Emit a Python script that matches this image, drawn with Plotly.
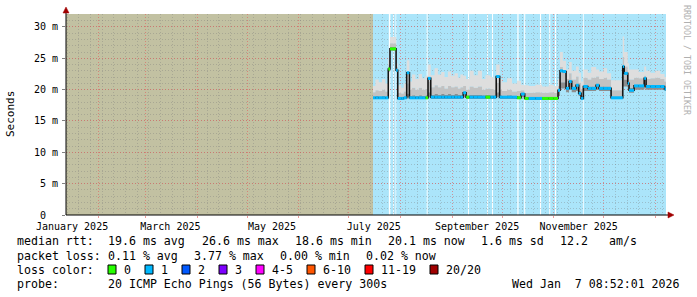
import plotly.graph_objects as go

# ---------------- data ----------------
axis_start = "2025-01-12 08:52:01"
axis_end = "2026-01-07 08:52:01"
data_start = "2025-07-15 14:00"

seg_start = [
    "2025-07-15 14:00", "2025-07-17 00:00", "2025-07-19 00:00", "2025-07-21 00:00", "2025-07-23 00:00",
    "2025-07-24 18:00", "2025-07-25 18:00", "2025-07-29 10:00", "2025-07-30 10:00", "2025-08-01 12:00",
    "2025-08-03 00:00", "2025-08-04 19:00", "2025-08-06 10:00", "2025-08-08 00:00", "2025-08-10 00:00",
    "2025-08-12 00:00", "2025-08-14 00:00", "2025-08-16 00:00", "2025-08-17 14:00", "2025-08-19 05:00",
    "2025-08-21 12:00", "2025-08-23 12:00", "2025-08-25 12:00", "2025-08-27 12:00", "2025-08-29 12:00",
    "2025-08-31 12:00", "2025-09-02 12:00", "2025-09-04 12:00", "2025-09-06 00:00", "2025-09-07 17:00",
    "2025-09-09 10:00", "2025-09-11 12:00", "2025-09-14 00:00", "2025-09-16 12:00", "2025-09-19 00:00",
    "2025-09-21 00:00", "2025-09-24 00:00", "2025-09-26 00:00", "2025-09-27 12:00", "2025-09-29 14:00",
    "2025-10-01 00:00", "2025-10-04 00:00", "2025-10-07 00:00", "2025-10-10 00:00", "2025-10-12 10:00",
    "2025-10-14 14:00", "2025-10-17 00:00", "2025-10-21 00:00", "2025-10-25 00:00", "2025-10-29 00:00",
    "2025-11-01 00:00", "2025-11-03 14:00", "2025-11-04 19:00", "2025-11-06 12:00", "2025-11-08 10:00",
    "2025-11-10 05:00", "2025-11-11 19:00", "2025-11-14 10:00", "2025-11-16 00:00", "2025-11-17 10:00",
    "2025-11-18 19:00", "2025-11-21 10:00", "2025-11-23 12:00", "2025-11-26 10:00", "2025-11-28 05:00",
    "2025-12-01 00:00", "2025-12-03 00:00", "2025-12-05 10:00", "2025-12-12 10:00", "2025-12-13 07:00",
    "2025-12-15 10:00", "2025-12-16 05:00", "2025-12-19 05:00", "2025-12-22 00:00", "2025-12-25 07:00",
    "2025-12-26 10:00", "2025-12-29 00:00", "2026-01-01 00:00", "2026-01-04 00:00", "2026-01-06 12:00",
]
median_ms = [
    18.7, 18.7, 18.7, 18.7, 18.7, 23.3, 26.5, 23.1, 18.6, 18.6,
    18.7, 22.7, 18.7, 18.7, 18.7, 18.7, 18.7, 18.7, 21.8, 18.8,
    18.8, 18.8, 18.8, 18.8, 18.8, 18.8, 18.8, 18.8, 18.8, 19.5,
    18.8, 18.8, 18.8, 18.8, 18.8, 18.8, 18.8, 18.8, 22.1, 18.8,
    18.8, 18.8, 18.8, 18.7, 19.3, 18.6, 18.6, 18.6, 18.6, 18.6,
    18.6, 19.9, 23.0, 22.9, 20.2, 21.3, 20.2, 20.7, 19.4, 18.6,
    20.5, 20.2, 20.2, 20.7, 20.2, 20.2, 20.2, 18.7, 23.7, 22.6,
    21.0, 19.9, 20.6, 20.6, 21.8, 20.5, 20.5, 20.5, 20.5, 20.1,
]
loss_cnt = [
    1, 1, 1, 1, 1, 0, 0, 1, 1, 1,
    1, 1, 1, 1, 1, 1, 1, 0, 1, 1,
    1, 1, 1, 1, 1, 1, 1, 1, 1, 1,
    0, 1, 1, 1, 1, 0, 1, 1, 1, 1,
    1, 1, 1, 0, 1, 0, 1, 1, 0, 0,
    0, 1, 1, 1, 1, 1, 1, 1, 1, 1,
    1, 1, 1, 1, 1, 1, 1, 1, 1, 1,
    1, 1, 1, 1, 1, 1, 1, 1, 1, 1,
]
smoke_lo = [
    18.5, 18.5, 18.5, 18.5, 18.5, 22.9, 26.2, 22.8, 18.4, 18.4,
    18.5, 18.8, 18.5, 18.5, 18.5, 18.5, 18.5, 18.5, 18.8, 18.5,
    18.5, 18.5, 18.5, 18.5, 18.5, 18.5, 18.5, 18.5, 18.5, 18.8,
    18.5, 18.5, 18.5, 18.5, 18.5, 18.5, 18.5, 18.5, 18.8, 18.5,
    18.5, 18.5, 18.5, 18.5, 18.8, 18.4, 18.4, 18.4, 18.4, 18.4,
    18.4, 19.0, 20.2, 20.2, 19.6, 20.0, 19.6, 19.8, 19.0, 18.4,
    19.8, 19.8, 19.8, 20.0, 19.8, 19.8, 19.8, 18.5, 20.5, 20.5,
    19.9, 19.5, 20.0, 20.0, 20.2, 20.0, 20.0, 20.0, 20.0, 19.8,
]
smoke_dark = [
    18.9, 19.0, 18.9, 19.0, 18.9, 23.6, 26.8, 23.3, 18.8, 18.8,
    18.9, 19.4, 19.0, 19.1, 19.0, 19.1, 19.0, 19.1, 19.6, 19.2,
    19.3, 19.2, 19.3, 19.2, 19.3, 19.2, 19.3, 19.2, 19.2, 19.7,
    19.1, 19.2, 19.2, 19.2, 19.1, 19.2, 19.1, 19.1, 19.6, 19.1,
    19.0, 19.1, 19.0, 19.0, 19.4, 18.8, 18.8, 18.8, 18.8, 18.8,
    18.8, 19.8, 21.2, 21.2, 20.5, 21.5, 20.5, 20.9, 19.8, 19.0,
    20.8, 20.5, 20.5, 20.9, 20.5, 20.5, 20.5, 18.9, 22.3, 21.6,
    21.1, 20.3, 20.8, 20.8, 21.0, 20.7, 20.7, 20.7, 20.7, 20.4,
]
smoke_mid = [
    19.6, 19.9, 19.8, 20.0, 19.7, 24.0, 27.4, 23.6, 19.5, 19.4,
    19.7, 21.0, 20.0, 20.3, 20.0, 20.3, 20.0, 20.1, 21.3, 20.4,
    20.7, 20.4, 20.6, 20.2, 20.6, 20.4, 20.5, 20.2, 20.4, 20.6,
    20.0, 20.5, 20.3, 20.5, 20.0, 20.2, 20.1, 20.0, 21.1, 20.0,
    19.8, 20.0, 19.7, 19.8, 19.9, 19.5, 19.5, 19.6, 19.5, 19.6,
    19.5, 20.6, 23.6, 23.1, 21.7, 22.6, 21.6, 22.1, 21.1, 20.1,
    21.9, 21.6, 21.9, 22.1, 21.7, 21.9, 21.6, 19.9, 25.2, 23.7,
    22.4, 21.6, 21.9, 21.8, 22.2, 21.7, 21.8, 21.9, 21.7, 21.3,
]
smoke_hi = [
    20.6, 21.6, 21.2, 21.7, 21.0, 24.8, 28.4, 24.2, 20.7, 20.3,
    21.0, 24.7, 21.3, 22.4, 21.7, 22.5, 21.8, 22.2, 24.0, 22.3,
    23.4, 22.4, 22.8, 22.0, 22.9, 22.2, 22.6, 21.9, 22.4, 22.2,
    21.7, 23.0, 22.3, 23.0, 21.7, 22.3, 22.0, 21.8, 24.0, 21.7,
    21.2, 21.8, 21.0, 21.4, 20.8, 20.7, 20.6, 20.8, 20.5, 20.8,
    20.6, 21.7, 26.0, 24.6, 23.2, 24.4, 23.0, 23.7, 22.7, 21.3,
    23.2, 22.7, 23.6, 23.2, 22.9, 23.4, 22.6, 21.5, 28.5, 26.0,
    24.2, 23.2, 23.2, 22.8, 23.7, 23.0, 22.7, 23.0, 22.5, 22.0,
]

gap_start = ["2025-07-25 02:00", "2025-07-27 17:00", "2025-07-29 02:00", "2025-08-16 19:00",
             "2025-09-10 14:00", "2025-09-22 00:00", "2025-09-25 00:00", "2025-10-10 04:00",
             "2025-10-14 07:00", "2025-10-23 18:00", "2025-10-29 07:00", "2025-11-01 18:00",
             "2025-11-18 12:00"]
gap_end = ["2025-07-26 00:00", "2025-07-28 05:00", "2025-07-29 12:00", "2025-08-17 08:00",
           "2025-09-11 03:00", "2025-09-22 12:00", "2025-09-25 14:00", "2025-10-10 22:00",
           "2025-10-14 22:00", "2025-10-24 10:00", "2025-10-29 22:00", "2025-11-02 10:00",
           "2025-11-19 00:00"]

month_label_pos = ["2025-01-16", "2025-03-16", "2025-05-16", "2025-07-16", "2025-09-16", "2025-11-16"]
month_labels = ["January 2025", "March 2025", "May 2025", "July 2025", "September 2025", "November 2025"]
y_tick_vals = [0, 5, 10, 15, 20, 25, 30]
y_tick_text = ["0\u00a0\u00a0", "5 m", "10 m", "15 m", "20 m", "25 m", "30 m"]
y_max = 32.07

loss_labels = ["0", "1", "2", "3", "4-5", "6-10", "11-19", "20/20"]
loss_colors = ["#26ff00", "#00b8ff", "#0059ff", "#7e00ff", "#ff00ff", "#ff5500", "#ff0000", "#a00000"]

rtt_items = ["19.6 ms avg", "26.6 ms max", "18.6 ms min", "20.1 ms now", "1.6 ms sd", "12.2", "am/s"]
loss_items = ["0.11 % avg", "3.77 % max", "0.00 % min", "0.02 % now"]
probe_text = "20 ICMP Echo Pings (56 Bytes) every 300s"
stamp_text = "Wed Jan\u00a0\u00a07 08:52:01 2026"

# ---------------- layout helpers ----------------
W, H = 697, 297
L, R, T, B = 66, 666, 14, 215
MONO = "DejaVu Sans Mono"


def PX(x):
    return (x - L) / (R - L)


def PY(y):
    return (B - y) / (B - T)


xs = seg_start + [axis_end]


def ext(a):
    return list(a) + [a[-1]]


fig = go.Figure()

# smoke bands
fig.add_trace(go.Scatter(x=xs, y=ext(smoke_lo), mode="lines",
                         line=dict(width=0, shape="hv"), hoverinfo="skip", showlegend=False))
for arr, col in [(smoke_dark, "#8e8e8e"), (smoke_mid, "#c2c2c2"), (smoke_hi, "#dedede")]:
    fig.add_trace(go.Scatter(x=xs, y=ext(arr), mode="lines", fill="tonexty", fillcolor=col,
                             line=dict(width=0, shape="hv"), hoverinfo="skip", showlegend=False))

# median black line
fig.add_trace(go.Scatter(x=xs, y=ext(median_ms), mode="lines",
                         line=dict(color="#151515", width=1.6, shape="hv"),
                         hoverinfo="skip", showlegend=False))

# colored median by loss
for c in sorted(set(loss_cnt)):
    sx, sy = [], []
    for i, lc in enumerate(loss_cnt):
        if lc == c:
            sx += [xs[i], xs[i + 1], None]
            sy += [median_ms[i], median_ms[i], None]
    fig.add_trace(go.Scatter(x=sx, y=sy, mode="lines",
                             line=dict(color=loss_colors[c], width=3),
                             hoverinfo="skip", showlegend=False, connectgaps=False))

# invisible trace so the label axis is drawn
fig.add_trace(go.Scatter(x=[axis_start, axis_end], y=[0, 0], xaxis="x2", mode="markers",
                         marker=dict(opacity=0, size=1), hoverinfo="skip", showlegend=False))

shapes = []
# backgrounds
shapes.append(dict(type="rect", xref="x", yref="paper", x0=axis_start, x1=data_start, y0=0, y1=1,
                   fillcolor="#c2c1a2", line=dict(width=0), layer="below"))
shapes.append(dict(type="rect", xref="x", yref="paper", x0=data_start, x1=axis_end, y0=0, y1=1,
                   fillcolor="#abe5fa", line=dict(width=0), layer="below"))
for g0, g1 in zip(gap_start, gap_end):
    shapes.append(dict(type="rect", xref="x", yref="paper", x0=g0, x1=g1, y0=0, y1=1,
                       fillcolor="#ffffff", line=dict(width=0), layer="below"))

# axis lines and arrows
shapes.append(dict(type="line", xref="paper", yref="paper", x0=PX(66), x1=PX(669), y0=PY(215), y1=PY(215),
                   line=dict(color="#000000", width=1), layer="above"))
shapes.append(dict(type="line", xref="paper", yref="paper", x0=PX(66), x1=PX(66), y0=PY(215), y1=PY(12),
                   line=dict(color="#000000", width=1), layer="above"))
shapes.append(dict(type="path", xref="paper", yref="paper",
                   path=f"M {PX(668)},{PY(212)} L {PX(674)},{PY(215)} L {PX(668)},{PY(218)} Z",
                   fillcolor="#a00000", line=dict(color="#a00000", width=0.5), layer="above"))
shapes.append(dict(type="path", xref="paper", yref="paper",
                   path=f"M {PX(63)},{PY(13)} L {PX(66)},{PY(7)} L {PX(69)},{PY(13)} Z",
                   fillcolor="#a00000", line=dict(color="#a00000", width=0.5), layer="above"))

annotations = []


def txt(x, y, s, size=11.6, color="#000000", anchor="left", angle=0):
    annotations.append(dict(x=PX(x), y=PY(y), xref="paper", yref="paper", text=s, showarrow=False,
                            xanchor=anchor, yanchor="middle", borderpad=0, textangle=angle,
                            font=dict(family=MONO, size=size, color=color)))


# legend rows
row_y = [241, 255.5, 269.5, 284]
txt(16, row_y[0], "median rtt:")
for xp, s in zip([107, 200.5, 294, 387, 480, 559, 608], rtt_items):
    txt(xp, row_y[0], s)
txt(16, row_y[1], "packet loss:")
for xp, s in zip([107, 193, 279, 365], loss_items):
    txt(xp, row_y[1], s)
txt(16, row_y[2], "loss color:")
sq_x = [108, 145, 182, 219, 256, 307, 365, 430]
for sx_, lab, col in zip(sq_x, loss_labels, loss_colors):
    shapes.append(dict(type="rect", xref="paper", yref="paper", x0=PX(sx_), x1=PX(sx_ + 8),
                       y0=PY(274), y1=PY(265), fillcolor=col, line=dict(color="#000000", width=1)))
    txt(sx_ + 15, row_y[2], lab)
txt(16, row_y[3], "probe:")
txt(107, row_y[3], probe_text)
txt(681, row_y[3], stamp_text, anchor="right")

# axis title and watermark
txt(11, 114, "Seconds", size=11, anchor="center", angle=-90)
txt(687, 60, "RRDTOOL / TOBI OETIKER", size=8.3, color="#b0b0b0", anchor="center", angle=90)

grid_major = "rgba(225,90,90,0.6)"
grid_minor = "rgba(120,120,120,0.35)"
dash = "1px,2px"

fig.update_layout(
    width=W, height=H,
    margin=dict(l=L, r=W - R, t=T, b=H - B, pad=0),
    paper_bgcolor="#ffffff", plot_bgcolor="#ffffff",
    showlegend=False,
    shapes=shapes, annotations=annotations,
    xaxis=dict(type="date", range=[axis_start, axis_end], tickmode="linear", tick0="2025-02-01",
               dtick="M1", showgrid=True, gridcolor=grid_major, griddash=dash, gridwidth=1,
               showticklabels=False, ticks="outside", ticklen=2, tickcolor=grid_major,
               zeroline=False, showline=False, fixedrange=True,
               minor=dict(tickmode="linear", tick0="2025-01-13", dtick=7 * 86400000, showgrid=True,
                          gridcolor=grid_minor, griddash=dash, gridwidth=1, ticks="")),
    xaxis2=dict(type="date", overlaying="x", anchor="y", side="bottom", range=[axis_start, axis_end],
                tickmode="array", tickvals=month_label_pos, ticktext=month_labels, showgrid=False,
                ticks="", zeroline=False, showline=False, ticklabelstandoff=4,
                tickfont=dict(family=MONO, size=10, color="#000000")),
    yaxis=dict(range=[0, y_max], tickmode="array", tickvals=y_tick_vals, ticktext=y_tick_text,
               showgrid=True, gridcolor=grid_major, griddash=dash, gridwidth=1,
               ticks="outside", ticklen=3, tickcolor="#808080", ticklabelstandoff=2,
               zeroline=False, showline=False,
               tickfont=dict(family=MONO, size=10, color="#000000"),
               minor=dict(tickmode="linear", tick0=0, dtick=1, showgrid=True,
                          gridcolor=grid_minor, griddash=dash, gridwidth=1, ticks="")),
)

fig.write_html("out.html")
